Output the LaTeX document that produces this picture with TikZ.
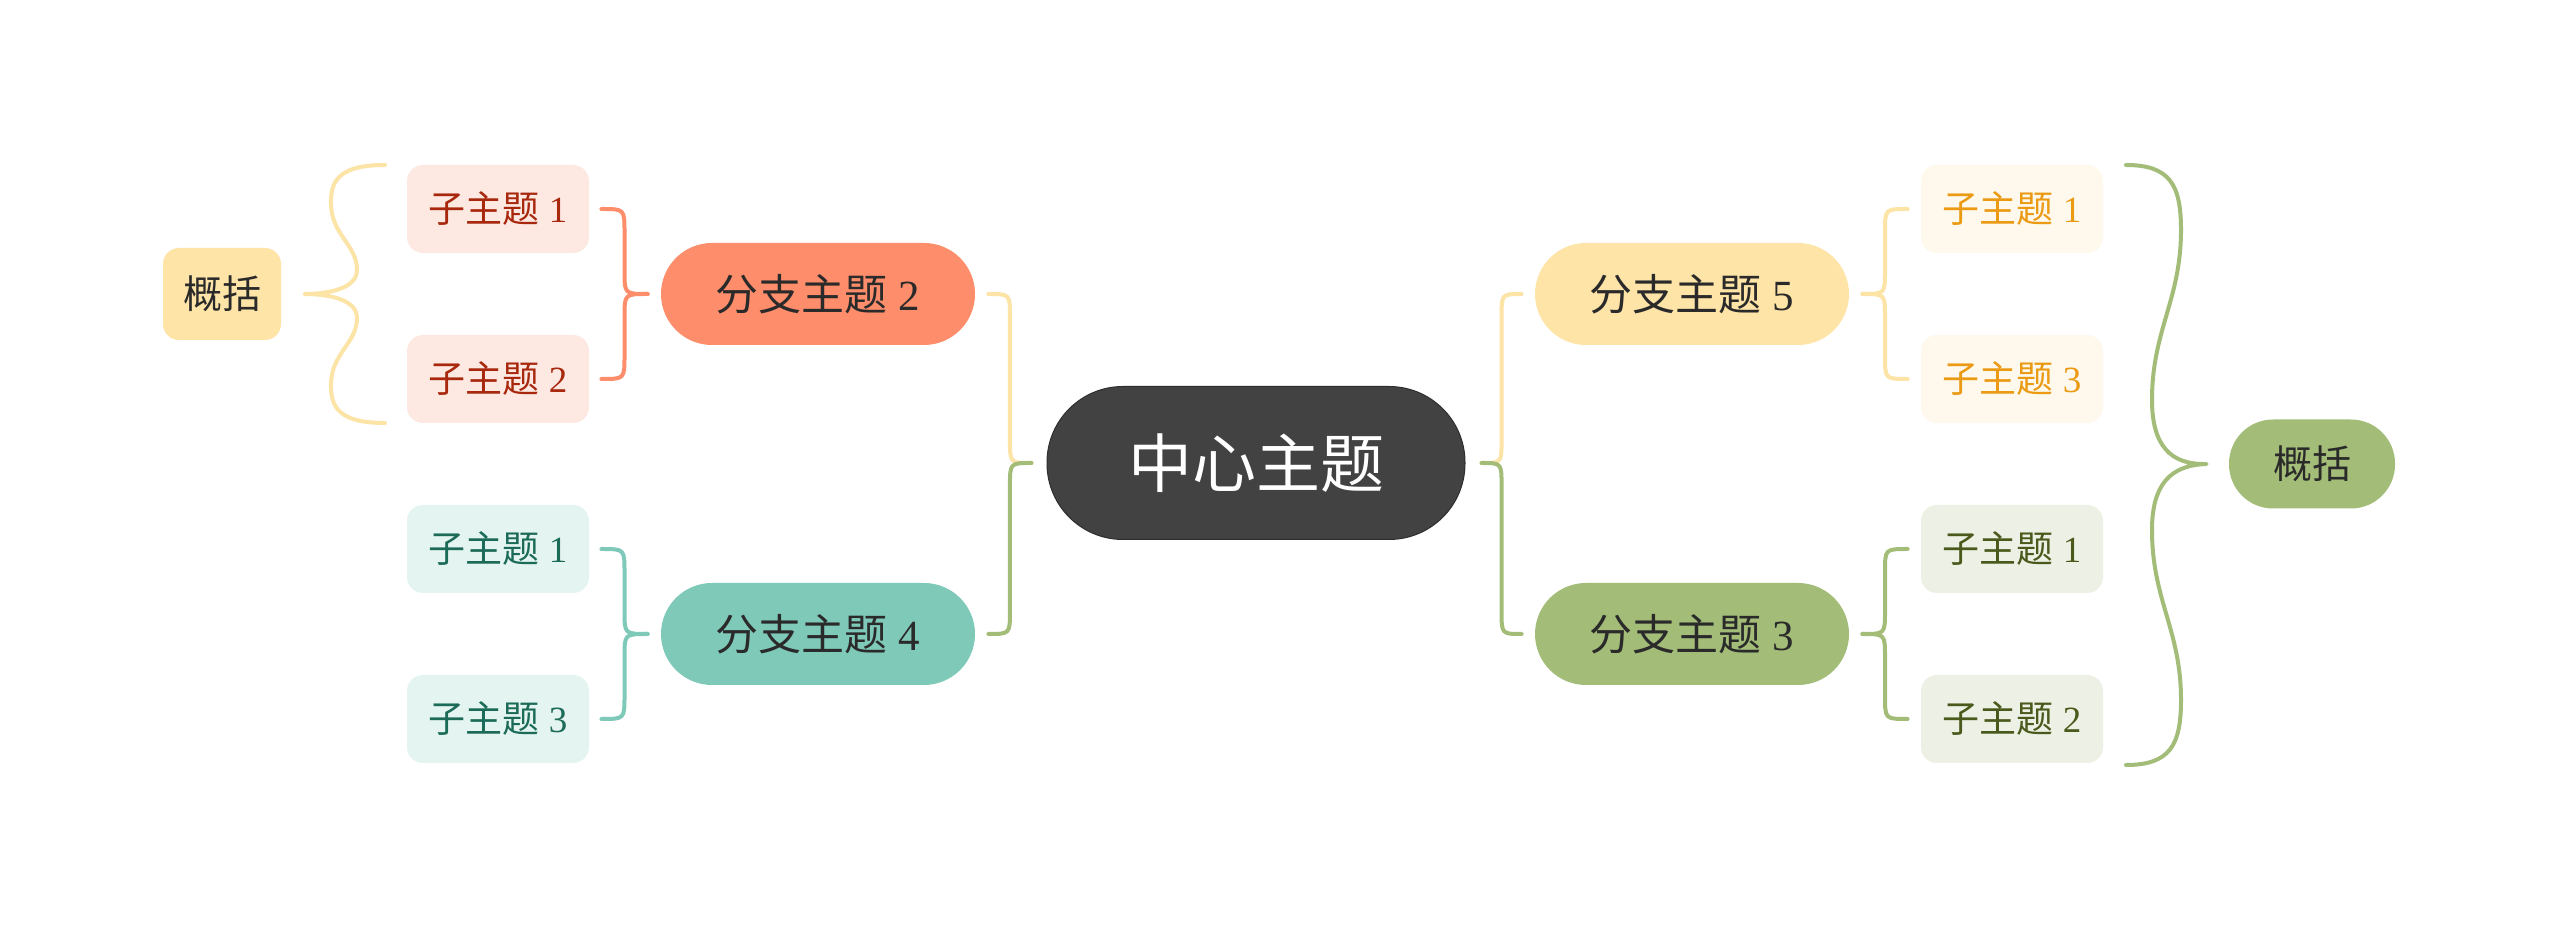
\documentclass[tikz,border=0pt]{standalone}
\usepackage{fontspec}
\setmainfont{Liberation Serif}
\newfontfamily\cjk{Noto Sans CJK SC}
\usetikzlibrary{calc}
\definecolor{cCentral}{HTML}{424242}
\definecolor{cCentralB}{HTML}{2E2E2E}
\definecolor{cOrange}{HTML}{FD8D6B}
\definecolor{cTeal}{HTML}{7FC9B9}
\definecolor{cYellow}{HTML}{FFE4A8}
\definecolor{cYellowL}{HTML}{FCE3A6}
\definecolor{cGreen}{HTML}{A3BD78}
\definecolor{fPink}{HTML}{FDE8E2}
\definecolor{tPink}{HTML}{A8280E}
\definecolor{fMint}{HTML}{E4F4F0}
\definecolor{tMint}{HTML}{1C6B58}
\definecolor{fCream}{HTML}{FEF9EC}
\definecolor{tCream}{HTML}{EB9A14}
\definecolor{fOlive}{HTML}{EDF0E4}
\definecolor{tOlive}{HTML}{4A5A1C}
\definecolor{tDark}{HTML}{2A2A2A}
\newcommand\halfbrace[3]{%
  \draw[conn,#1] let \p1=(#2), \p2=(#3), \n1={(\x1+\x2)/2}, \n2={11.5pt*sign(\y1-\y2)} in
    (\p1) .. controls (\n1,\y1) .. ({\n1},{\y1-(\n2)}) -- ({\n1},{\y2+(\n2)}) .. controls (\n1,\y2) .. (\p2);}
\begin{document}
\begin{tikzpicture}[x=0.5pt,y=-0.5pt,
  central/.style={fill=cCentral,draw=cCentralB,line width=0.5pt,text=white,minimum width=209pt,minimum height=76.5pt,rounded corners=38pt,inner sep=0pt,font=\cjk\fontsize{32pt}{36pt}\selectfont},
  branch/.style={minimum width=157pt,minimum height=51pt,rounded corners=25.5pt,inner sep=0pt,text=tDark,font=\fontsize{21.5pt}{25pt}\selectfont},
  sub/.style={minimum width=91pt,minimum height=44pt,rounded corners=8pt,inner sep=0pt,font=\fontsize{18.5pt}{22pt}\selectfont},
  summ/.style={inner sep=0pt,text=tDark,font=\cjk\fontsize{19.5pt}{23pt}\selectfont},
  conn/.style={line width=2pt,line cap=round,line join=round}]
\useasboundingbox (0,0) rectangle (2560,929);
\fill[white] (0,0) rectangle (2560,929);
% nodes
\node[central] (c) at (1256,463) {中心主题};
\node[branch,fill=cOrange] (b2) at (818,294) {{\cjk 分支主题} 2};
\node[branch,fill=cTeal] (b4) at (818,634) {{\cjk 分支主题} 4};
\node[branch,fill=cYellow] (b5) at (1692,294) {{\cjk 分支主题} 5};
\node[branch,fill=cGreen] (b3) at (1692,634) {{\cjk 分支主题} 3};
\node[sub,fill=fPink,text=tPink] (s2a) at (498,209) {{\cjk 子主题} 1};
\node[sub,fill=fPink,text=tPink] (s2b) at (498,379) {{\cjk 子主题} 2};
\node[sub,fill=fMint,text=tMint] (s4a) at (498,549) {{\cjk 子主题} 1};
\node[sub,fill=fMint,text=tMint] (s4b) at (498,719) {{\cjk 子主题} 3};
\node[sub,fill=fCream,text=tCream] (s5a) at (2012,209) {{\cjk 子主题} 1};
\node[sub,fill=fCream,text=tCream] (s5b) at (2012,379) {{\cjk 子主题} 3};
\node[sub,fill=fOlive,text=tOlive] (s3a) at (2012,549) {{\cjk 子主题} 1};
\node[sub,fill=fOlive,text=tOlive] (s3b) at (2012,719) {{\cjk 子主题} 2};
\node[summ,fill=cYellow,minimum width=59pt,minimum height=46pt,rounded corners=8pt] (sumL) at (222,294) {概括};
\node[summ,fill=cGreen,minimum width=83pt,minimum height=44.5pt,rounded corners=22pt] (sumR) at (2312,464) {概括};
% central connectors
\coordinate (cl) at ($(c.west)+(-15,0)$);
\coordinate (cr) at ($(c.east)+(16,0)$);
\halfbrace{cYellowL}{$(b2.east)+(13,0)$}{cl}
\halfbrace{cGreen}{$(b4.east)+(13,0)$}{cl}
\halfbrace{cYellowL}{$(b5.west)+(-13,0)$}{cr}
\halfbrace{cGreen}{$(b3.west)+(-13,0)$}{cr}
% sub braces
\coordinate (t2) at ($(b2.west)+(-13,0)$);
\coordinate (t4) at ($(b4.west)+(-13,0)$);
\coordinate (t5) at ($(b5.east)+(13,0)$);
\coordinate (t3) at ($(b3.east)+(13,0)$);
\halfbrace{cOrange}{$(s2a.east)+(12,0)$}{t2}
\halfbrace{cOrange}{$(s2b.east)+(12,0)$}{t2}
\halfbrace{cTeal}{$(s4a.east)+(12,0)$}{t4}
\halfbrace{cTeal}{$(s4b.east)+(12,0)$}{t4}
\halfbrace{cYellowL}{$(s5a.west)+(-13,0)$}{t5}
\halfbrace{cYellowL}{$(s5b.west)+(-13,0)$}{t5}
\halfbrace{cGreen}{$(s3a.west)+(-13,0)$}{t3}
\halfbrace{cGreen}{$(s3b.west)+(-13,0)$}{t3}
% summary braces
\coordinate (Ltop) at (385,165);
\coordinate (Lbot) at (385,423);
\coordinate (Ltip) at ($(sumL.east)+(23,0)$);
\draw[conn,cYellowL] (Ltop) .. controls (340,165) and (330,180) .. (331,205)
  .. controls (332,235) and (357,245) .. (357,270) .. controls (357,288) and (330,294) .. (Ltip)
  .. controls (330,294) and (357,300) .. (357,318) .. controls (357,343) and (332,353) .. (331,383)
  .. controls (330,408) and (340,423) .. (Lbot);
\coordinate (Rtop) at (2126,165);
\coordinate (Rbot) at (2126,765);
\coordinate (Rtip) at ($(sumR.west)+(-22,0)$);
\draw[conn,cGreen] (Rtop) .. controls (2170,165) and (2181,185) .. (2181,230)
  .. controls (2181,300) and (2152,330) .. (2152,400) .. controls (2152,445) and (2170,465) .. (Rtip)
  .. controls (2170,465) and (2152,485) .. (2152,530) .. controls (2152,600) and (2181,630) .. (2181,700)
  .. controls (2181,745) and (2170,765) .. (Rbot);
\end{tikzpicture}
\end{document}
